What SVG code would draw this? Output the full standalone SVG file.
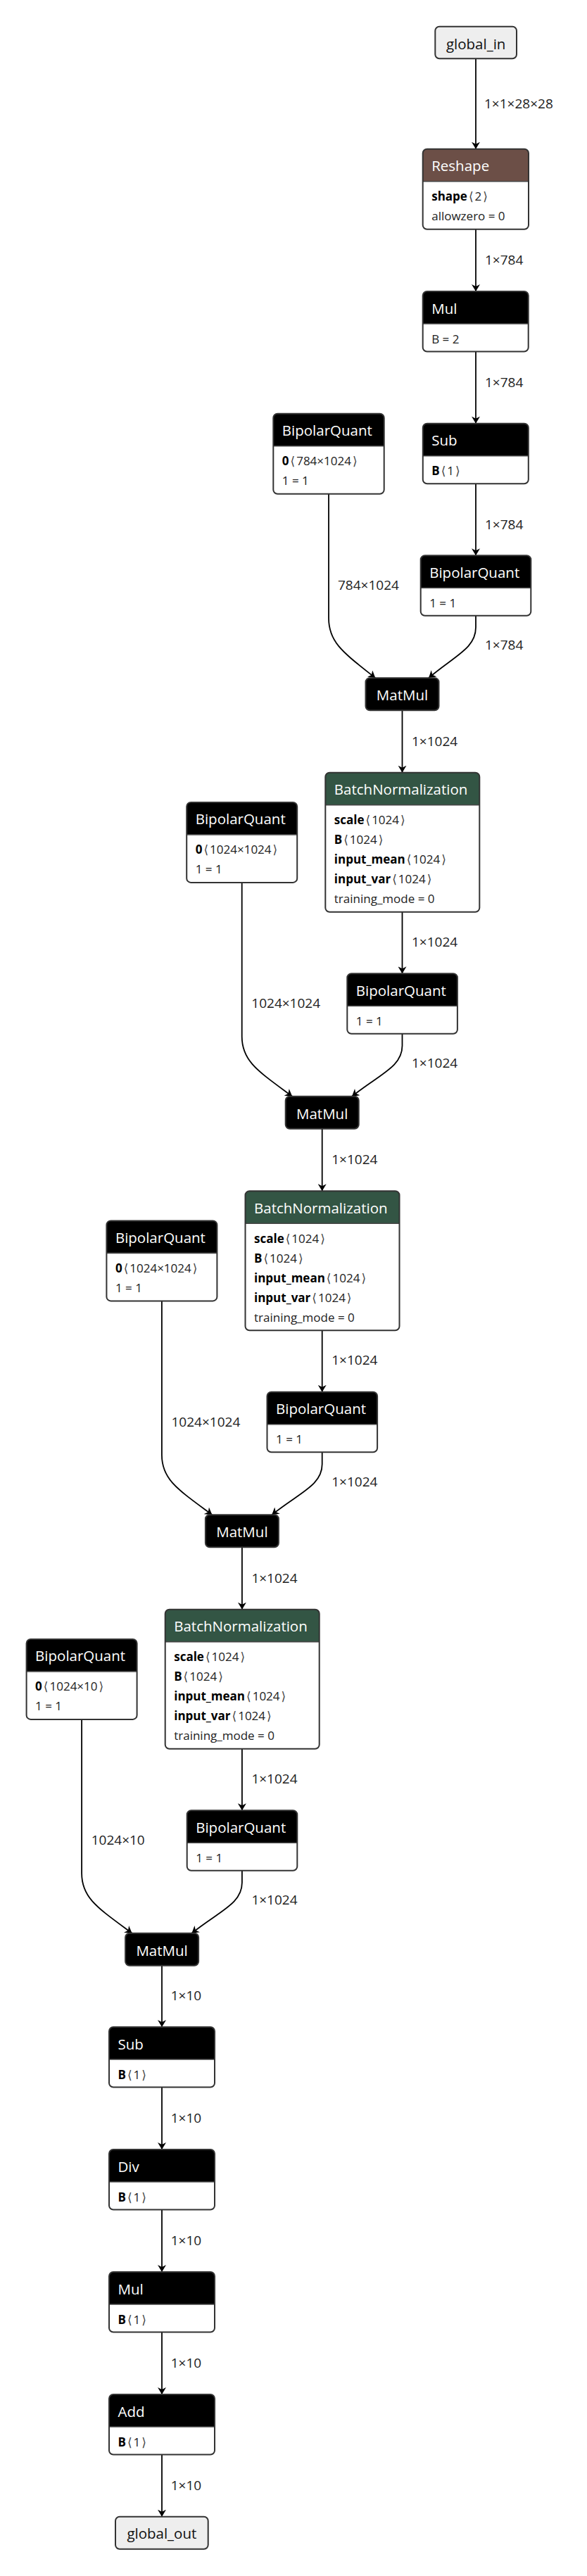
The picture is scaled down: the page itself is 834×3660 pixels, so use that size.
<svg xmlns="http://www.w3.org/2000/svg" width="834" height="3660" viewBox="0 0 834 3660">
<defs>
<style>
text{font-family:"Open Sans","Noto Sans","DejaVu Sans",sans-serif;}
.body{fill:#fff;stroke:none;}
.border{fill:none;stroke:#333;stroke-width:2;}
.sep{stroke:#444;stroke-width:1.6;}
.title{fill:#fff;font-size:20.5px;}
.io{fill:#eee;stroke:#333;stroke-width:2;}
.iot{fill:#111;font-size:20.5px;text-anchor:middle;}
.mm{fill:#000;stroke:#333;stroke-width:2;}
.mmt{fill:#fff;font-size:20.5px;text-anchor:middle;}
.attr{fill:#222;font-size:17px;}
.b{font-weight:bold;fill:#000;}
.k{fill:#444;}
.edge{fill:none;stroke:#000;stroke-width:1.8;marker-end:url(#ah);}
.lbl{fill:#222;font-size:19px;}
</style>
<marker id="ah" viewBox="0 0 10 12" refX="10" refY="6" markerWidth="10" markerHeight="12" markerUnits="userSpaceOnUse" orient="auto"><path d="M0,0 L10,6 L0,12 L3,6 Z" fill="#000"/></marker>
</defs>
<rect width="834" height="3660" fill="#fff"/>

<g id="edges">
<path class="edge" d="M676,83.3 V211.7"/>
<path class="edge" d="M676,325.7 V414"/>
<path class="edge" d="M676,499.5 V601.7"/>
<path class="edge" d="M676,687.2 V789.3"/>
<path class="edge" d="M467,701.7 V878.3 C467,913.3 488.2,927.3 533.3,963.3"/>
<path class="edge" d="M676,874.8 V891.3 C676,921.3 646.5,931.3 609,963.3"/>
<path class="edge" d="M571.5,1009.3 V1097.7"/>
<path class="edge" d="M571.5,1295.7 V1383.3"/>
<path class="edge" d="M343.7,1253.9 V1472.8 C343.7,1507.8 366.6,1521.8 415.2,1557.8"/>
<path class="edge" d="M571.5,1468.8 V1485.8 C571.5,1515.8 540,1525.8 500,1557.8"/>
<path class="edge" d="M457.7,1603.8 V1692.2"/>
<path class="edge" d="M457.7,1890.2 V1977.8"/>
<path class="edge" d="M229.9,1848.4 V2067.3 C229.9,2102.3 252.8,2116.3 301.4,2152.3"/>
<path class="edge" d="M457.7,2063.3 V2080.3 C457.7,2110.3 426.2,2120.3 386.2,2152.3"/>
<path class="edge" d="M343.9,2198.3 V2286.7"/>
<path class="edge" d="M343.9,2484.7 V2572.3"/>
<path class="edge" d="M116.1,2442.9 V2661.8 C116.1,2696.8 139,2710.8 187.6,2746.8"/>
<path class="edge" d="M343.9,2657.8 V2674.8 C343.9,2704.8 312.4,2714.8 272.4,2746.8"/>
<path class="edge" d="M230,2792.8 V2880"/>
<path class="edge" d="M230,2965.5 V3054"/>
<path class="edge" d="M230,3139.5 V3228"/>
<path class="edge" d="M230,3313.5 V3402"/>
<path class="edge" d="M230,3487.5 V3575.7"/>
<text class="lbl" x="688" y="154">1×1×28×28</text>
<text class="lbl" x="689" y="376">1×784</text>
<text class="lbl" x="689" y="550">1×784</text>
<text class="lbl" x="689" y="751.7">1×784</text>
<text class="lbl" x="480" y="838.3">784×1024</text>
<text class="lbl" x="689" y="923">1×784</text>
<text class="lbl" x="585" y="1060">1×1024</text>
<text class="lbl" x="585" y="1345">1×1024</text>
<text class="lbl" x="357.3" y="1431.8">1024×1024</text>
<text class="lbl" x="585" y="1517">1×1024</text>
<text class="lbl" x="471.2" y="1654">1×1024</text>
<text class="lbl" x="471.2" y="1939">1×1024</text>
<text class="lbl" x="243.5" y="2026.5">1024×1024</text>
<text class="lbl" x="471.2" y="2111.5">1×1024</text>
<text class="lbl" x="357.4" y="2248.5">1×1024</text>
<text class="lbl" x="357.4" y="2533.5">1×1024</text>
<text class="lbl" x="129.7" y="2621">1024×10</text>
<text class="lbl" x="357.4" y="2706">1×1024</text>
<text class="lbl" x="242.7" y="2841.7">1×10</text>
<text class="lbl" x="242.7" y="3016">1×10</text>
<text class="lbl" x="242.7" y="3190">1×10</text>
<text class="lbl" x="242.7" y="3364">1×10</text>
<text class="lbl" x="242.7" y="3538.3">1×10</text>
</g>

<g id="global_in">
<rect class="io" x="618.3" y="37.7" width="115.7" height="45.6" rx="6"/>
<text class="iot" x="676.15" y="69.5">global_in</text>
</g>

<g id="reshape">
<rect class="body" x="600.7" y="211.7" width="150.3" height="114" rx="6"/>
<path fill="#6c4f47" d="M600.7,257.7 V217.7 Q600.7,211.7 606.7,211.7 H745 Q751,211.7 751,217.7 V257.7 Z"/>
<line class="sep" x1="600.7" y1="257.7" x2="751" y2="257.7"/>
<rect class="border" x="600.7" y="211.7" width="150.3" height="114" rx="6"/>
<text class="title" x="613.2" y="243.2">Reshape</text>
<text class="attr" x="613.2" y="285.2"><tspan class="b">shape</tspan><tspan class="k" dx="2">⟨</tspan><tspan dx="2">2</tspan><tspan class="k" dx="2">⟩</tspan></text>
<text class="attr" x="613.2" y="313.2">allowzero = 0</text>
</g>

<g id="mul_1">
<rect class="body" x="600.7" y="414" width="150" height="85.5" rx="6"/>
<path fill="#000" d="M600.7,460 V420 Q600.7,414 606.7,414 H744.7 Q750.7,414 750.7,420 V460 Z"/>
<line class="sep" x1="600.7" y1="460" x2="750.7" y2="460"/>
<rect class="border" x="600.7" y="414" width="150" height="85.5" rx="6"/>
<text class="title" x="613.2" y="445.5">Mul</text>
<text class="attr" x="613.2" y="487.5">B = 2</text>
</g>

<g id="sub_1">
<rect class="body" x="600.8" y="601.7" width="150" height="85.5" rx="6"/>
<path fill="#000" d="M600.8,647.7 V607.7 Q600.8,601.7 606.8,601.7 H744.8 Q750.8,601.7 750.8,607.7 V647.7 Z"/>
<line class="sep" x1="600.8" y1="647.7" x2="750.8" y2="647.7"/>
<rect class="border" x="600.8" y="601.7" width="150" height="85.5" rx="6"/>
<text class="title" x="613.3" y="633.2">Sub</text>
<text class="attr" x="613.3" y="675.2"><tspan class="b">B</tspan><tspan class="k" dx="2">⟨</tspan><tspan dx="2">1</tspan><tspan class="k" dx="2">⟩</tspan></text>
</g>

<g id="bq_r1">
<rect class="body" x="597.7" y="789.3" width="156.6" height="85.5" rx="6"/>
<path fill="#000" d="M597.7,835.3 V795.3 Q597.7,789.3 603.7,789.3 H748.3 Q754.3,789.3 754.3,795.3 V835.3 Z"/>
<line class="sep" x1="597.7" y1="835.3" x2="754.3" y2="835.3"/>
<rect class="border" x="597.7" y="789.3" width="156.6" height="85.5" rx="6"/>
<text class="title" x="610.2" y="820.8">BipolarQuant</text>
<text class="attr" x="610.2" y="862.8">1 = 1</text>
</g>

<g id="bq_l1">
<rect class="body" x="388.3" y="587.7" width="157.4" height="114" rx="6"/>
<path fill="#000" d="M388.3,633.7 V593.7 Q388.3,587.7 394.3,587.7 H539.7 Q545.7,587.7 545.7,593.7 V633.7 Z"/>
<line class="sep" x1="388.3" y1="633.7" x2="545.7" y2="633.7"/>
<rect class="border" x="388.3" y="587.7" width="157.4" height="114" rx="6"/>
<text class="title" x="400.8" y="619.2">BipolarQuant</text>
<text class="attr" x="400.8" y="661.2"><tspan class="b">0</tspan><tspan class="k" dx="2">⟨</tspan><tspan dx="2">784×1024</tspan><tspan class="k" dx="2">⟩</tspan></text>
<text class="attr" x="400.8" y="689.2">1 = 1</text>
</g>

<g id="matmul_1">
<rect class="mm" x="519.5" y="963.3" width="104" height="46" rx="6"/>
<text class="mmt" x="571.5" y="995">MatMul</text>
</g>

<g id="bn_1">
<rect class="body" x="462.3" y="1097.7" width="219" height="198" rx="6"/>
<path fill="#335544" d="M462.3,1143.7 V1103.7 Q462.3,1097.7 468.3,1097.7 H675.3 Q681.3,1097.7 681.3,1103.7 V1143.7 Z"/>
<line class="sep" x1="462.3" y1="1143.7" x2="681.3" y2="1143.7"/>
<rect class="border" x="462.3" y="1097.7" width="219" height="198" rx="6"/>
<text class="title" x="474.8" y="1129.2">BatchNormalization</text>
<text class="attr" x="474.8" y="1171.2"><tspan class="b">scale</tspan><tspan class="k" dx="2">⟨</tspan><tspan dx="2">1024</tspan><tspan class="k" dx="2">⟩</tspan></text>
<text class="attr" x="474.8" y="1199.2"><tspan class="b">B</tspan><tspan class="k" dx="2">⟨</tspan><tspan dx="2">1024</tspan><tspan class="k" dx="2">⟩</tspan></text>
<text class="attr" x="474.8" y="1227.2"><tspan class="b">input_mean</tspan><tspan class="k" dx="2">⟨</tspan><tspan dx="2">1024</tspan><tspan class="k" dx="2">⟩</tspan></text>
<text class="attr" x="474.8" y="1255.2"><tspan class="b">input_var</tspan><tspan class="k" dx="2">⟨</tspan><tspan dx="2">1024</tspan><tspan class="k" dx="2">⟩</tspan></text>
<text class="attr" x="474.8" y="1283.2">training_mode = 0</text>
</g>

<g id="bq_l2">
<rect class="body" x="265.2" y="1139.9" width="157" height="114" rx="6"/>
<path fill="#000" d="M265.2,1185.9 V1145.9 Q265.2,1139.9 271.2,1139.9 H416.2 Q422.2,1139.9 422.2,1145.9 V1185.9 Z"/>
<line class="sep" x1="265.2" y1="1185.9" x2="422.2" y2="1185.9"/>
<rect class="border" x="265.2" y="1139.9" width="157" height="114" rx="6"/>
<text class="title" x="277.7" y="1171.4">BipolarQuant</text>
<text class="attr" x="277.7" y="1213.4"><tspan class="b">0</tspan><tspan class="k" dx="2">⟨</tspan><tspan dx="2">1024×1024</tspan><tspan class="k" dx="2">⟩</tspan></text>
<text class="attr" x="277.7" y="1241.4">1 = 1</text>
</g>

<g id="bq_r2">
<rect class="body" x="493.3" y="1383.3" width="156.6" height="85.5" rx="6"/>
<path fill="#000" d="M493.3,1429.3 V1389.3 Q493.3,1383.3 499.3,1383.3 H643.9 Q649.9,1383.3 649.9,1389.3 V1429.3 Z"/>
<line class="sep" x1="493.3" y1="1429.3" x2="649.9" y2="1429.3"/>
<rect class="border" x="493.3" y="1383.3" width="156.6" height="85.5" rx="6"/>
<text class="title" x="505.8" y="1414.8">BipolarQuant</text>
<text class="attr" x="505.8" y="1456.8">1 = 1</text>
</g>

<g id="matmul_2">
<rect class="mm" x="405.7" y="1557.8" width="104" height="46" rx="6"/>
<text class="mmt" x="457.7" y="1589.5">MatMul</text>
</g>

<g id="bn_2">
<rect class="body" x="348.5" y="1692.2" width="219" height="198" rx="6"/>
<path fill="#335544" d="M348.5,1738.2 V1698.2 Q348.5,1692.2 354.5,1692.2 H561.5 Q567.5,1692.2 567.5,1698.2 V1738.2 Z"/>
<line class="sep" x1="348.5" y1="1738.2" x2="567.5" y2="1738.2"/>
<rect class="border" x="348.5" y="1692.2" width="219" height="198" rx="6"/>
<text class="title" x="361" y="1723.7">BatchNormalization</text>
<text class="attr" x="361" y="1765.7"><tspan class="b">scale</tspan><tspan class="k" dx="2">⟨</tspan><tspan dx="2">1024</tspan><tspan class="k" dx="2">⟩</tspan></text>
<text class="attr" x="361" y="1793.7"><tspan class="b">B</tspan><tspan class="k" dx="2">⟨</tspan><tspan dx="2">1024</tspan><tspan class="k" dx="2">⟩</tspan></text>
<text class="attr" x="361" y="1821.7"><tspan class="b">input_mean</tspan><tspan class="k" dx="2">⟨</tspan><tspan dx="2">1024</tspan><tspan class="k" dx="2">⟩</tspan></text>
<text class="attr" x="361" y="1849.7"><tspan class="b">input_var</tspan><tspan class="k" dx="2">⟨</tspan><tspan dx="2">1024</tspan><tspan class="k" dx="2">⟩</tspan></text>
<text class="attr" x="361" y="1877.7">training_mode = 0</text>
</g>

<g id="bq_l3">
<rect class="body" x="151.4" y="1734.4" width="157" height="114" rx="6"/>
<path fill="#000" d="M151.4,1780.4 V1740.4 Q151.4,1734.4 157.4,1734.4 H302.4 Q308.4,1734.4 308.4,1740.4 V1780.4 Z"/>
<line class="sep" x1="151.4" y1="1780.4" x2="308.4" y2="1780.4"/>
<rect class="border" x="151.4" y="1734.4" width="157" height="114" rx="6"/>
<text class="title" x="163.9" y="1765.9">BipolarQuant</text>
<text class="attr" x="163.9" y="1807.9"><tspan class="b">0</tspan><tspan class="k" dx="2">⟨</tspan><tspan dx="2">1024×1024</tspan><tspan class="k" dx="2">⟩</tspan></text>
<text class="attr" x="163.9" y="1835.9">1 = 1</text>
</g>

<g id="bq_r3">
<rect class="body" x="379.5" y="1977.8" width="156.6" height="85.5" rx="6"/>
<path fill="#000" d="M379.5,2023.8 V1983.8 Q379.5,1977.8 385.5,1977.8 H530.1 Q536.1,1977.8 536.1,1983.8 V2023.8 Z"/>
<line class="sep" x1="379.5" y1="2023.8" x2="536.1" y2="2023.8"/>
<rect class="border" x="379.5" y="1977.8" width="156.6" height="85.5" rx="6"/>
<text class="title" x="392" y="2009.3">BipolarQuant</text>
<text class="attr" x="392" y="2051.3">1 = 1</text>
</g>

<g id="matmul_3">
<rect class="mm" x="291.9" y="2152.3" width="104" height="46" rx="6"/>
<text class="mmt" x="343.9" y="2184">MatMul</text>
</g>

<g id="bn_3">
<rect class="body" x="234.7" y="2286.7" width="219" height="198" rx="6"/>
<path fill="#335544" d="M234.7,2332.7 V2292.7 Q234.7,2286.7 240.7,2286.7 H447.7 Q453.7,2286.7 453.7,2292.7 V2332.7 Z"/>
<line class="sep" x1="234.7" y1="2332.7" x2="453.7" y2="2332.7"/>
<rect class="border" x="234.7" y="2286.7" width="219" height="198" rx="6"/>
<text class="title" x="247.2" y="2318.2">BatchNormalization</text>
<text class="attr" x="247.2" y="2360.2"><tspan class="b">scale</tspan><tspan class="k" dx="2">⟨</tspan><tspan dx="2">1024</tspan><tspan class="k" dx="2">⟩</tspan></text>
<text class="attr" x="247.2" y="2388.2"><tspan class="b">B</tspan><tspan class="k" dx="2">⟨</tspan><tspan dx="2">1024</tspan><tspan class="k" dx="2">⟩</tspan></text>
<text class="attr" x="247.2" y="2416.2"><tspan class="b">input_mean</tspan><tspan class="k" dx="2">⟨</tspan><tspan dx="2">1024</tspan><tspan class="k" dx="2">⟩</tspan></text>
<text class="attr" x="247.2" y="2444.2"><tspan class="b">input_var</tspan><tspan class="k" dx="2">⟨</tspan><tspan dx="2">1024</tspan><tspan class="k" dx="2">⟩</tspan></text>
<text class="attr" x="247.2" y="2472.2">training_mode = 0</text>
</g>

<g id="bq_l4">
<rect class="body" x="37.6" y="2328.9" width="157" height="114" rx="6"/>
<path fill="#000" d="M37.6,2374.9 V2334.9 Q37.6,2328.9 43.6,2328.9 H188.6 Q194.6,2328.9 194.6,2334.9 V2374.9 Z"/>
<line class="sep" x1="37.6" y1="2374.9" x2="194.6" y2="2374.9"/>
<rect class="border" x="37.6" y="2328.9" width="157" height="114" rx="6"/>
<text class="title" x="50.1" y="2360.4">BipolarQuant</text>
<text class="attr" x="50.1" y="2402.4"><tspan class="b">0</tspan><tspan class="k" dx="2">⟨</tspan><tspan dx="2">1024×10</tspan><tspan class="k" dx="2">⟩</tspan></text>
<text class="attr" x="50.1" y="2430.4">1 = 1</text>
</g>

<g id="bq_r4">
<rect class="body" x="265.7" y="2572.3" width="156.6" height="85.5" rx="6"/>
<path fill="#000" d="M265.7,2618.3 V2578.3 Q265.7,2572.3 271.7,2572.3 H416.3 Q422.3,2572.3 422.3,2578.3 V2618.3 Z"/>
<line class="sep" x1="265.7" y1="2618.3" x2="422.3" y2="2618.3"/>
<rect class="border" x="265.7" y="2572.3" width="156.6" height="85.5" rx="6"/>
<text class="title" x="278.2" y="2603.8">BipolarQuant</text>
<text class="attr" x="278.2" y="2645.8">1 = 1</text>
</g>

<g id="matmul_4">
<rect class="mm" x="178.1" y="2746.8" width="104" height="46" rx="6"/>
<text class="mmt" x="230.1" y="2778.5">MatMul</text>
</g>

<g id="sub_2">
<rect class="body" x="155" y="2880" width="150" height="85.5" rx="6"/>
<path fill="#000" d="M155,2926 V2886 Q155,2880 161,2880 H299 Q305,2880 305,2886 V2926 Z"/>
<line class="sep" x1="155" y1="2926" x2="305" y2="2926"/>
<rect class="border" x="155" y="2880" width="150" height="85.5" rx="6"/>
<text class="title" x="167.5" y="2911.5">Sub</text>
<text class="attr" x="167.5" y="2953.5"><tspan class="b">B</tspan><tspan class="k" dx="2">⟨</tspan><tspan dx="2">1</tspan><tspan class="k" dx="2">⟩</tspan></text>
</g>

<g id="div">
<rect class="body" x="155" y="3054" width="150" height="85.5" rx="6"/>
<path fill="#000" d="M155,3100 V3060 Q155,3054 161,3054 H299 Q305,3054 305,3060 V3100 Z"/>
<line class="sep" x1="155" y1="3100" x2="305" y2="3100"/>
<rect class="border" x="155" y="3054" width="150" height="85.5" rx="6"/>
<text class="title" x="167.5" y="3085.5">Div</text>
<text class="attr" x="167.5" y="3127.5"><tspan class="b">B</tspan><tspan class="k" dx="2">⟨</tspan><tspan dx="2">1</tspan><tspan class="k" dx="2">⟩</tspan></text>
</g>

<g id="mul_2">
<rect class="body" x="155" y="3228" width="150" height="85.5" rx="6"/>
<path fill="#000" d="M155,3274 V3234 Q155,3228 161,3228 H299 Q305,3228 305,3234 V3274 Z"/>
<line class="sep" x1="155" y1="3274" x2="305" y2="3274"/>
<rect class="border" x="155" y="3228" width="150" height="85.5" rx="6"/>
<text class="title" x="167.5" y="3259.5">Mul</text>
<text class="attr" x="167.5" y="3301.5"><tspan class="b">B</tspan><tspan class="k" dx="2">⟨</tspan><tspan dx="2">1</tspan><tspan class="k" dx="2">⟩</tspan></text>
</g>

<g id="add">
<rect class="body" x="155" y="3402" width="150" height="85.5" rx="6"/>
<path fill="#000" d="M155,3448 V3408 Q155,3402 161,3402 H299 Q305,3402 305,3408 V3448 Z"/>
<line class="sep" x1="155" y1="3448" x2="305" y2="3448"/>
<rect class="border" x="155" y="3402" width="150" height="85.5" rx="6"/>
<text class="title" x="167.5" y="3433.5">Add</text>
<text class="attr" x="167.5" y="3475.5"><tspan class="b">B</tspan><tspan class="k" dx="2">⟨</tspan><tspan dx="2">1</tspan><tspan class="k" dx="2">⟩</tspan></text>
</g>

<g id="global_out">
<rect class="io" x="164" y="3575.7" width="131.7" height="46" rx="6"/>
<text class="iot" x="229.85" y="3607">global_out</text>
</g>
</svg>
